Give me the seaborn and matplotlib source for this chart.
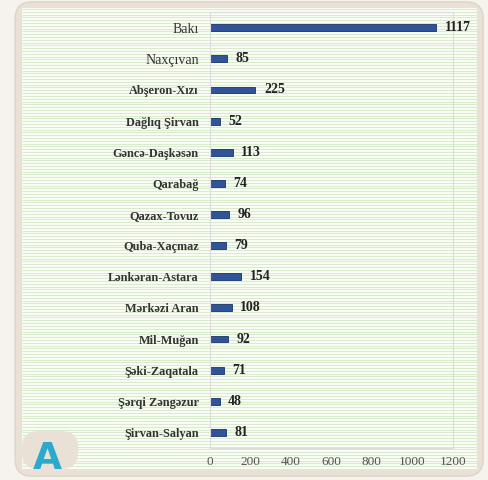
import matplotlib.pyplot as plt
import seaborn as sns
import numpy as np
import pandas as pd
from matplotlib.patches import FancyBboxPatch

plt.switch_backend('Agg')
sns.set_theme(style="white")
plt.rcParams['font.family'] = ['Liberation Serif', 'DejaVu Serif']

regions = ['Bakı', 'Naxçıvan', 'Abşeron-Xızı', 'Dağlıq Şirvan', 'Gəncə-Daşkəsən',
           'Qarabağ', 'Qazax-Tovuz', 'Quba-Xaçmaz', 'Lənkəran-Astara', 'Mərkəzi Aran',
           'Mil-Muğan', 'Şəki-Zaqatala', 'Şərqi Zəngəzur', 'Şirvan-Salyan']
counts = [1117, 85, 225, 52, 113, 74, 96, 79, 154, 108, 92, 71, 48, 81]
bold_labels = [False, False] + [True] * 12

df = pd.DataFrame({'Region': regions, 'Count': counts})

fig = plt.figure(figsize=(4.88, 4.80), dpi=100)
fig.patch.set_facecolor('#f6f3ee')

# outer rounded frame
frame = FancyBboxPatch((0.031, 0.008), 0.959, 0.988, boxstyle="round,pad=0,rounding_size=0.035",
                       transform=fig.transFigure, facecolor='#e9e1d5', edgecolor='#ddd4c6',
                       linewidth=1, zorder=-1)
fig.patches.append(frame)

# striped inner panel
bg = fig.add_axes([0.045, 0.023, 0.932, 0.960])
bg.set_zorder(1)
bg.set_xlim(0, 1)
bg.set_ylim(0, 460)
bg.hlines(np.arange(0, 460, 2.8), 0, 1, color='#d8ebcd', linewidth=0.8)
bg.set_xticks([])
bg.set_yticks([])
bg.set_facecolor('#fbfdf8')
for s in bg.spines.values():
    s.set_visible(False)

# "A" tab
tab = FancyBboxPatch((0.045, 0.023), 0.115, 0.079, boxstyle="round,pad=0,rounding_size=0.035",
                     transform=fig.transFigure, facecolor='#e9e1d5', edgecolor='none', zorder=5)
fig.patches.append(tab)
fig.text(0.096, 0.023, 'A', family='DejaVu Sans', fontsize=27, fontweight='bold',
         color='#2aaacd', ha='center', va='baseline', zorder=6)

ax = fig.add_axes([0.430, 0.0667, 0.498, 0.908])
ax.set_zorder(2)
ax.patch.set_alpha(0)
sns.barplot(data=df, y='Region', x='Count', orient='h', color='#2f549a',
            edgecolor='#1b3266', linewidth=0.6, width=0.22, saturation=1, ax=ax)

ax.set_xlim(0, 1200)
ax.set_xticks(range(0, 1201, 200))
ax.set_xlabel('')
ax.set_ylabel('')
ax.tick_params(axis='x', labelsize=9.5, colors='#555555', length=0, pad=6)
ax.tick_params(axis='y', labelsize=8.8, colors='#333333', length=0, pad=8)
for lbl, b in zip(ax.get_yticklabels(), bold_labels):
    if b:
        lbl.set_fontweight('bold')
    else:
        lbl.set_fontsize(10)
for s in ax.spines.values():
    s.set_color('#dcdcdc')
    s.set_linewidth(0.8)

for p, v in zip(ax.patches, counts):
    ax.text(p.get_width() + 42, p.get_y() + p.get_height() / 2, f'{v}',
            va='center', ha='left', fontsize=10, fontweight='bold', color='#222222')

plt.savefig('out.png', dpi=100)
plt.close()
